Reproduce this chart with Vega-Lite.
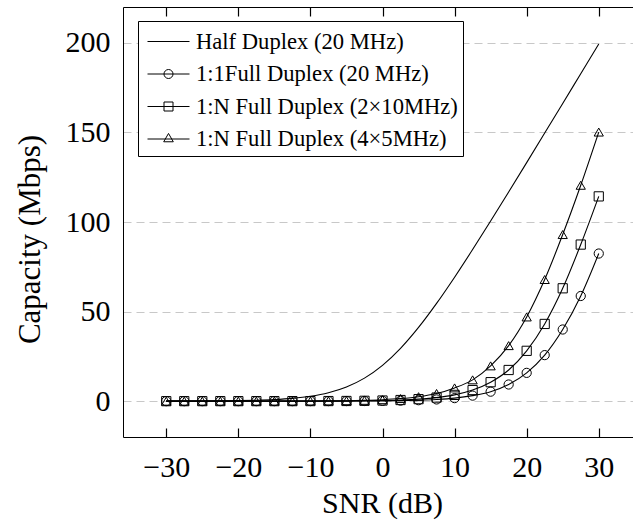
{
  "$schema": "https://vega.github.io/schema/vega-lite/v6.json",
  "width": 510,
  "height": 430,
  "autosize": {"type": "none"},
  "padding": {"left": 123, "top": 7, "right": 0, "bottom": 86},
  "background": "white",
  "config": {
    "font": "Liberation Serif",
    "view": {"stroke": null},
    "axis": {"labelFont": "Liberation Serif", "titleFont": "Liberation Serif", "labelColor": "black", "titleColor": "black", "titleFontWeight": "normal", "domainColor": "black", "tickColor": "black", "domainWidth": 1, "tickWidth": 1.2}
  },
  "datasets": {
    "caps": [
      {"snr": -30, "series": "Half Duplex (20 MHz)", "cap": 0.03},
      {"snr": -27.5, "series": "Half Duplex (20 MHz)", "cap": 0.05},
      {"snr": -25, "series": "Half Duplex (20 MHz)", "cap": 0.09},
      {"snr": -22.5, "series": "Half Duplex (20 MHz)", "cap": 0.16},
      {"snr": -20, "series": "Half Duplex (20 MHz)", "cap": 0.29},
      {"snr": -17.5, "series": "Half Duplex (20 MHz)", "cap": 0.51},
      {"snr": -15, "series": "Half Duplex (20 MHz)", "cap": 0.9},
      {"snr": -12.5, "series": "Half Duplex (20 MHz)", "cap": 1.58},
      {"snr": -10, "series": "Half Duplex (20 MHz)", "cap": 2.75},
      {"snr": -7.5, "series": "Half Duplex (20 MHz)", "cap": 4.72},
      {"snr": -5, "series": "Half Duplex (20 MHz)", "cap": 7.93},
      {"snr": -2.5, "series": "Half Duplex (20 MHz)", "cap": 12.87},
      {"snr": 0, "series": "Half Duplex (20 MHz)", "cap": 20},
      {"snr": 2.5, "series": "Half Duplex (20 MHz)", "cap": 29.48},
      {"snr": 5, "series": "Half Duplex (20 MHz)", "cap": 41.15},
      {"snr": 7.5, "series": "Half Duplex (20 MHz)", "cap": 54.56},
      {"snr": 10, "series": "Half Duplex (20 MHz)", "cap": 69.19},
      {"snr": 12.5, "series": "Half Duplex (20 MHz)", "cap": 84.63},
      {"snr": 15, "series": "Half Duplex (20 MHz)", "cap": 100.56},
      {"snr": 17.5, "series": "Half Duplex (20 MHz)", "cap": 116.78},
      {"snr": 20, "series": "Half Duplex (20 MHz)", "cap": 133.16},
      {"snr": 22.5, "series": "Half Duplex (20 MHz)", "cap": 149.64},
      {"snr": 25, "series": "Half Duplex (20 MHz)", "cap": 166.18},
      {"snr": 27.5, "series": "Half Duplex (20 MHz)", "cap": 182.77},
      {"snr": 30, "series": "Half Duplex (20 MHz)", "cap": 199.35},

      {"snr": -30, "series": "1:1Full Duplex (20 MHz)", "cap": 0},
      {"snr": -27.5, "series": "1:1Full Duplex (20 MHz)", "cap": 0},
      {"snr": -25, "series": "1:1Full Duplex (20 MHz)", "cap": 0},
      {"snr": -22.5, "series": "1:1Full Duplex (20 MHz)", "cap": 0},
      {"snr": -20, "series": "1:1Full Duplex (20 MHz)", "cap": 0},
      {"snr": -17.5, "series": "1:1Full Duplex (20 MHz)", "cap": 0.01},
      {"snr": -15, "series": "1:1Full Duplex (20 MHz)", "cap": 0.01},
      {"snr": -12.5, "series": "1:1Full Duplex (20 MHz)", "cap": 0.01},
      {"snr": -10, "series": "1:1Full Duplex (20 MHz)", "cap": 0.02},
      {"snr": -7.5, "series": "1:1Full Duplex (20 MHz)", "cap": 0.03},
      {"snr": -5, "series": "1:1Full Duplex (20 MHz)", "cap": 0.05},
      {"snr": -2.5, "series": "1:1Full Duplex (20 MHz)", "cap": 0.1},
      {"snr": 0, "series": "1:1Full Duplex (20 MHz)", "cap": 0.17},
      {"snr": 2.5, "series": "1:1Full Duplex (20 MHz)", "cap": 0.3},
      {"snr": 5, "series": "1:1Full Duplex (20 MHz)", "cap": 0.54},
      {"snr": 7.5, "series": "1:1Full Duplex (20 MHz)", "cap": 0.96},
      {"snr": 10, "series": "1:1Full Duplex (20 MHz)", "cap": 1.7},
      {"snr": 12.5, "series": "1:1Full Duplex (20 MHz)", "cap": 3.1},
      {"snr": 15, "series": "1:1Full Duplex (20 MHz)", "cap": 5.3},
      {"snr": 17.5, "series": "1:1Full Duplex (20 MHz)", "cap": 9.3},
      {"snr": 20, "series": "1:1Full Duplex (20 MHz)", "cap": 15.8},
      {"snr": 22.5, "series": "1:1Full Duplex (20 MHz)", "cap": 25.7},
      {"snr": 25, "series": "1:1Full Duplex (20 MHz)", "cap": 40.0},
      {"snr": 27.5, "series": "1:1Full Duplex (20 MHz)", "cap": 58.7},
      {"snr": 30, "series": "1:1Full Duplex (20 MHz)", "cap": 82.4},

      {"snr": -30, "series": "1:N Full Duplex (2×10MHz)", "cap": 0},
      {"snr": -27.5, "series": "1:N Full Duplex (2×10MHz)", "cap": 0},
      {"snr": -25, "series": "1:N Full Duplex (2×10MHz)", "cap": 0},
      {"snr": -22.5, "series": "1:N Full Duplex (2×10MHz)", "cap": 0.01},
      {"snr": -20, "series": "1:N Full Duplex (2×10MHz)", "cap": 0.01},
      {"snr": -17.5, "series": "1:N Full Duplex (2×10MHz)", "cap": 0.01},
      {"snr": -15, "series": "1:N Full Duplex (2×10MHz)", "cap": 0.01},
      {"snr": -12.5, "series": "1:N Full Duplex (2×10MHz)", "cap": 0.02},
      {"snr": -10, "series": "1:N Full Duplex (2×10MHz)", "cap": 0.04},
      {"snr": -7.5, "series": "1:N Full Duplex (2×10MHz)", "cap": 0.06},
      {"snr": -5, "series": "1:N Full Duplex (2×10MHz)", "cap": 0.11},
      {"snr": -2.5, "series": "1:N Full Duplex (2×10MHz)", "cap": 0.2},
      {"snr": 0, "series": "1:N Full Duplex (2×10MHz)", "cap": 0.36},
      {"snr": 2.5, "series": "1:N Full Duplex (2×10MHz)", "cap": 0.64},
      {"snr": 5, "series": "1:N Full Duplex (2×10MHz)", "cap": 1.13},
      {"snr": 7.5, "series": "1:N Full Duplex (2×10MHz)", "cap": 2.0},
      {"snr": 10, "series": "1:N Full Duplex (2×10MHz)", "cap": 3.5},
      {"snr": 12.5, "series": "1:N Full Duplex (2×10MHz)", "cap": 6.2},
      {"snr": 15, "series": "1:N Full Duplex (2×10MHz)", "cap": 10.6},
      {"snr": 17.5, "series": "1:N Full Duplex (2×10MHz)", "cap": 17.4},
      {"snr": 20, "series": "1:N Full Duplex (2×10MHz)", "cap": 28.1},
      {"snr": 22.5, "series": "1:N Full Duplex (2×10MHz)", "cap": 43.1},
      {"snr": 25, "series": "1:N Full Duplex (2×10MHz)", "cap": 63.0},
      {"snr": 27.5, "series": "1:N Full Duplex (2×10MHz)", "cap": 87.4},
      {"snr": 30, "series": "1:N Full Duplex (2×10MHz)", "cap": 114.3},

      {"snr": -30, "series": "1:N Full Duplex (4×5MHz)", "cap": 0},
      {"snr": -27.5, "series": "1:N Full Duplex (4×5MHz)", "cap": 0},
      {"snr": -25, "series": "1:N Full Duplex (4×5MHz)", "cap": 0.01},
      {"snr": -22.5, "series": "1:N Full Duplex (4×5MHz)", "cap": 0.01},
      {"snr": -20, "series": "1:N Full Duplex (4×5MHz)", "cap": 0.01},
      {"snr": -17.5, "series": "1:N Full Duplex (4×5MHz)", "cap": 0.01},
      {"snr": -15, "series": "1:N Full Duplex (4×5MHz)", "cap": 0.03},
      {"snr": -12.5, "series": "1:N Full Duplex (4×5MHz)", "cap": 0.05},
      {"snr": -10, "series": "1:N Full Duplex (4×5MHz)", "cap": 0.08},
      {"snr": -7.5, "series": "1:N Full Duplex (4×5MHz)", "cap": 0.15},
      {"snr": -5, "series": "1:N Full Duplex (4×5MHz)", "cap": 0.26},
      {"snr": -2.5, "series": "1:N Full Duplex (4×5MHz)", "cap": 0.46},
      {"snr": 0, "series": "1:N Full Duplex (4×5MHz)", "cap": 0.82},
      {"snr": 2.5, "series": "1:N Full Duplex (4×5MHz)", "cap": 1.45},
      {"snr": 5, "series": "1:N Full Duplex (4×5MHz)", "cap": 2.5},
      {"snr": 7.5, "series": "1:N Full Duplex (4×5MHz)", "cap": 4.3},
      {"snr": 10, "series": "1:N Full Duplex (4×5MHz)", "cap": 7.4},
      {"snr": 12.5, "series": "1:N Full Duplex (4×5MHz)", "cap": 11.9},
      {"snr": 15, "series": "1:N Full Duplex (4×5MHz)", "cap": 19.7},
      {"snr": 17.5, "series": "1:N Full Duplex (4×5MHz)", "cap": 31.0},
      {"snr": 20, "series": "1:N Full Duplex (4×5MHz)", "cap": 47.0},
      {"snr": 22.5, "series": "1:N Full Duplex (4×5MHz)", "cap": 67.9},
      {"snr": 25, "series": "1:N Full Duplex (4×5MHz)", "cap": 93.0},
      {"snr": 27.5, "series": "1:N Full Duplex (4×5MHz)", "cap": 120.5},
      {"snr": 30, "series": "1:N Full Duplex (4×5MHz)", "cap": 150.2}
    ]
  },
  "data": {"name": "caps"},
  "layer": [
    {
      "mark": {"type": "line", "strokeWidth": 1.1, "interpolate": "monotone"},
      "encoding": {
        "x": {
          "field": "snr", "type": "quantitative",
          "scale": {"domain": [-36, 34.75], "nice": false, "zero": false},
          "axis": {"orient": "bottom", "values": [-30, -20, -10, 0, 10, 20, 30], "title": "SNR (dB)", "grid": false, "ticks": false, "labelPadding": 15, "labelFontSize": 30, "titleFontSize": 30, "titleFontWeight": "normal", "titlePadding": 6, "titleX": 259}
        },
        "y": {
          "field": "cap", "type": "quantitative",
          "scale": {"domain": [-20, 220], "nice": false, "zero": false},
          "axis": {"orient": "left", "values": [0, 50, 100, 150, 200], "title": "Capacity (Mbps)", "ticks": false, "labelPadding": 13, "labelFontSize": 30, "titleFontSize": 31, "titleFontWeight": "normal", "titlePadding": 19, "titleY": 232, "grid": true, "gridDash": [8, 5], "gridColor": "#c8c8c8", "gridWidth": 1.2}
        },
        "color": {
          "field": "series", "type": "nominal",
          "scale": {"domain": ["Half Duplex (20 MHz)", "1:1Full Duplex (20 MHz)", "1:N Full Duplex (2×10MHz)", "1:N Full Duplex (4×5MHz)"], "range": ["black", "black", "black", "black"]},
          "legend": {
            "title": null, "orient": "none", "legendX": 15, "legendY": 14,
            "strokeColor": "black", "fillColor": "white", "padding": 5, "cornerRadius": 0,
            "labelFont": "Liberation Serif", "labelFontSize": 22.6, "labelColor": "black",
            "symbolSize": 900, "symbolOffset": 10, "labelOffset": 12, "rowPadding": 4.5, "labelLimit": 400,
            "encode": {
              "symbols": {
                "update": {
                  "shape": {"signal": "datum.value == 'Half Duplex (20 MHz)' ? 'M-1.4,0H1.4' : datum.value == '1:1Full Duplex (20 MHz)' ? 'M-1.4,0H1.4M0.3,0A0.3,0.3,0,1,1,-0.3,0A0.3,0.3,0,1,1,0.3,0Z' : datum.value == '1:N Full Duplex (2×10MHz)' ? 'M-1.4,0H1.4M-0.3,-0.3H0.3V0.3H-0.3Z' : 'M-1.4,0H1.4M0,-0.37L0.32,0.185L-0.32,0.185Z'"},
                  "fill": {"value": "transparent"},
                  "stroke": {"value": "black"},
                  "strokeWidth": {"value": 1},
                  "strokeDash": {"value": []},
                  "opacity": {"value": 1}
                }
              }
            }
          }
        }
      }
    },
    {
      "transform": [{"filter": "datum.series != 'Half Duplex (20 MHz)'"}],
      "mark": {"type": "point", "filled": false, "color": "black", "strokeWidth": 1, "size": 85, "opacity": 1},
      "encoding": {
        "x": {
          "field": "snr", "type": "quantitative",
          "axis": {"orient": "top", "offset": -430, "values": [-30, -20, -10, 0, 10, 20, 30], "labels": false, "title": null, "grid": false, "domain": false, "ticks": true, "tickSize": 9}
        },
        "y": {
          "field": "cap", "type": "quantitative",
          "axis": {"orient": "left", "values": [0, 50, 100, 150, 200], "title": "Capacity (Mbps)", "ticks": false, "labelPadding": 13, "labelFontSize": 30, "titleFontSize": 31, "titleFontWeight": "normal", "titlePadding": 19, "titleY": 232, "grid": true, "gridDash": [8, 5], "gridColor": "#c8c8c8", "gridWidth": 1.2}
        },
        "shape": {
          "field": "series", "type": "nominal",
          "scale": {"domain": ["1:1Full Duplex (20 MHz)", "1:N Full Duplex (2×10MHz)", "1:N Full Duplex (4×5MHz)"], "range": ["circle", "square", "triangle-up"]},
          "legend": null
        }
      }
    },
    {
      "transform": [{"filter": "datum.snr == 0 && datum.series == 'Half Duplex (20 MHz)'"}],
      "mark": {"type": "point", "opacity": 0},
      "encoding": {
        "x": {
          "field": "snr", "type": "quantitative",
          "axis": {"orient": "bottom", "offset": -430, "values": [-30, -20, -10, 0, 10, 20, 30], "labels": false, "title": null, "grid": false, "domain": true, "ticks": true, "tickSize": 9}
        }
      }
    }
  ],
  "resolve": {"axis": {"x": "independent"}}
}
